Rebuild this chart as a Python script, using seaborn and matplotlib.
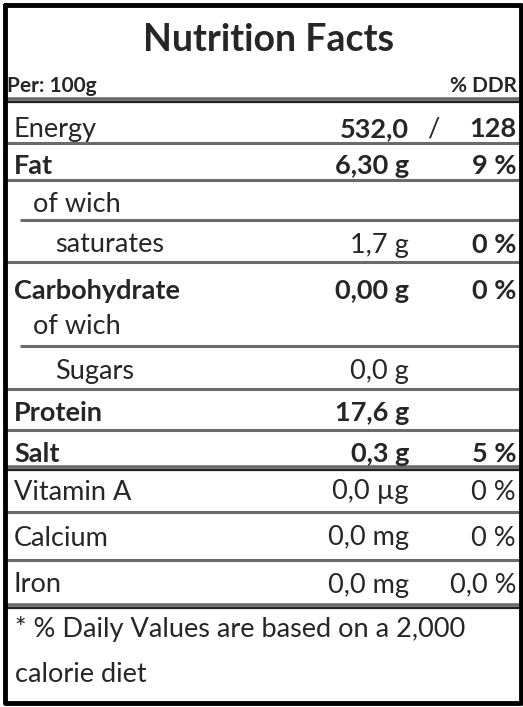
import matplotlib
matplotlib.use("Agg")
import matplotlib.pyplot as plt
import seaborn as sns

sns.set_style("white")
plt.rcParams['font.family'] = ['Lato', 'DejaVu Sans']

labels = ["Energy", "Fat", "of wich", "saturates", "Carbohydrate", "of wich",
          "Sugars", "Protein", "Salt", "Vitamin A", "Calcium", "Iron"]
amounts = ["532,0", "6,30 g", "", "1,7 g", "0,00 g", "", "0,0 g", "17,6 g",
           "0,3 g", "0,0 µg", "0,0 mg", "0,0 mg"]
percents = ["128", "9 %", "", "0 %", "0 %", "", "", "", "5 %", "0 %", "0 %", "0,0 %"]
label_bold = [False, True, False, False, True, False, False, True, True, False, False, False]
amount_bold = [True, True, False, False, True, False, False, True, True, False, False, False]
pct_bold = [True, True, False, True, True, False, False, False, True, False, False, False]
indent = [0, 0, 1, 2, 0, 1, 2, 0, 0, 0, 0, 0]
row_y = [129, 166, 204, 245, 291, 326, 372, 413, 454, 492, 538, 585]

fig = plt.figure(figsize=(5.23, 7.07), dpi=100)
ax = fig.add_axes([0, 0, 1, 1])
ax.set_xlim(0, 523)
ax.set_ylim(707, 0)
ax.axis("off")

gray = "#6b6b6b"
for y, x0 in [(143, 5), (180, 5), (220, 20), (262, 5), (346, 20), (389, 5), (430, 5),
              (512, 5), (560, 5)]:
    ax.plot([x0, 521], [y, y], color=gray, lw=2.2, solid_capstyle="butt")
for y in [99, 467, 605]:
    ax.plot([5, 521], [y, y], color=gray, lw=2.6, solid_capstyle="butt")
    ax.plot([5, 521], [y + 3, y + 3], color="#222222", lw=1.6, solid_capstyle="butt")
ax.plot([5, 521, 521, 5, 5], [5, 5, 703, 703, 5], color="black", lw=3.5)

ax.text(269, 40, "Nutrition Facts", ha="center", va="center", fontsize=27, fontweight="bold")
ax.text(7, 86, "Per: 100g", ha="left", va="center", fontsize=15, fontweight="bold")
ax.text(517, 86, "% DDR", ha="right", va="center", fontsize=15, fontweight="bold")

fs = 19.5
for i, lab in enumerate(labels):
    y = row_y[i]
    x = [14, 33, 55][indent[i]]
    ax.text(x, y, lab, ha="left", va="center", fontsize=fs,
            fontweight="bold" if label_bold[i] else "normal")
    if amounts[i]:
        ax.text(409, y, amounts[i], ha="right", va="center", fontsize=fs,
                fontweight="bold" if amount_bold[i] else "normal")
    if percents[i]:
        ax.text(516, y, percents[i], ha="right", va="center", fontsize=fs,
                fontweight="bold" if pct_bold[i] else "normal")
    if i == 0:
        ax.text(433, y, "/", ha="center", va="center", fontsize=fs)

ax.text(15, 629, "* % Daily Values are based on a 2,000", ha="left", va="center", fontsize=fs)
ax.text(15, 675, "calorie diet", ha="left", va="center", fontsize=fs)

fig.savefig("out.png", dpi=100)
